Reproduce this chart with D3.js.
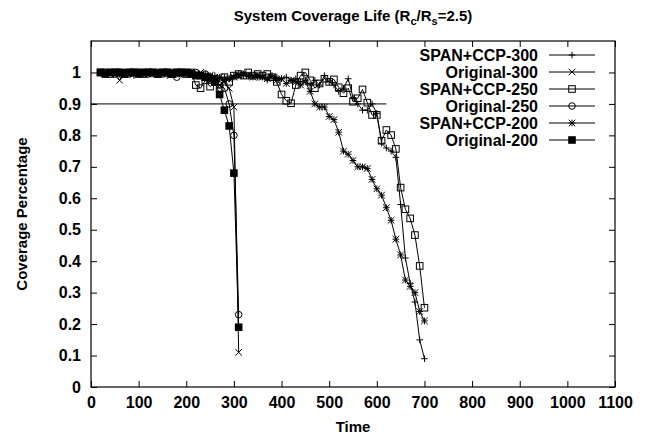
<!DOCTYPE html>
<html>
<head>
<meta charset="utf-8">
<script src="https://cdn.jsdelivr.net/npm/d3@7"></script>
<style>
  body { margin: 0; background: #fff; }
  text { font-family: "Liberation Sans", Arial, sans-serif; font-weight: bold; fill: #000; }
</style>
</head>
<body>
<div id="chart"></div>
<script>
// time steps of the two kinds of runs
var timeOrig = [20, 30, 40, 50, 60, 70, 80, 90, 100, 110, 120, 130, 140, 150, 160, 170, 180, 190, 200, 210,
  220, 230, 240, 250, 260, 270, 280, 290, 300, 310];
var timeSpan = [20, 30, 40, 50, 60, 70, 80, 90, 100, 110, 120, 130, 140, 150, 160, 170, 180, 190, 200, 210,
  220, 230, 240, 250, 260, 270, 280, 290, 300, 310, 320, 330, 340, 350, 360, 370, 380, 390, 400, 410,
  420, 430, 440, 450, 460, 470, 480, 490, 500, 510, 520, 530, 540, 550, 560, 570, 580, 590, 600, 610,
  620, 630, 640, 650, 660, 670, 680, 690, 700];

// coverage values
var spanCcp300 = [1, 0.995, 1, 1, 0.995, 1, 1, 0.99, 1, 0.995, 1, 1, 0.995, 1, 0.99, 1, 1, 0.995, 1,
  1, 0.995, 0.99, 0.995, 0.985, 0.99, 0.98, 0.985, 0.98, 0.99, 0.995, 0.99, 0.987, 0.99, 0.985, 0.99, 0.976,
  0.99, 0.985, 0.98, 0.985, 0.975, 0.98, 0.97, 0.975, 0.96, 0.975, 0.96, 0.99, 0.97, 0.96, 0.94, 0.95, 0.98,
  0.92, 0.9, 0.88, 0.88, 0.9, 0.87, 0.775, 0.76, 0.75, 0.73, 0.58, 0.41, 0.33, 0.27, 0.15, 0.09];
var original300 = [1, 1, 0.995, 1, 0.975, 1, 1, 0.995, 1, 1, 0.995, 1, 1, 1, 0.995, 1, 1, 0.995, 1, 1,
  0.995, 1, 0.99, 0.99, 0.985, 0.96, 0.97, 0.95, 0.89, 0.11];
var spanCcp250 = [1, 1, 0.995, 1, 1, 0.995, 1, 1, 1, 0.995, 1, 1, 0.995, 1, 1, 0.995, 1, 1, 0.995, 1,
  0.96, 0.95, 0.975, 0.955, 0.97, 0.95, 0.985, 0.97, 0.99, 0.995, 0.99, 1, 0.99, 0.995, 0.99, 0.995,
  0.985, 0.97, 0.93, 0.91, 0.902, 0.96, 0.99, 1, 0.975, 0.95, 0.965, 0.98, 0.97, 0.978, 0.953, 0.934, 0.95,
  0.907, 0.918, 0.946, 0.904, 0.865, 0.865, 0.783, 0.817, 0.801, 0.757, 0.634, 0.565, 0.536, 0.483, 0.385, 0.252];
var original250 = [1, 1, 1, 0.995, 1, 1, 0.995, 1, 1, 1, 0.995, 1, 1, 0.995, 1, 1, 0.985, 1, 1, 0.995,
  1, 0.99, 0.995, 0.985, 0.98, 0.96, 0.95, 0.9, 0.8, 0.23];
var spanCcp200 = [1, 0.995, 1, 1, 0.995, 1, 1, 1, 0.995, 1, 1, 0.995, 1, 1, 1, 0.995, 1, 1, 0.995, 1,
  0.995, 0.99, 0.985, 0.99, 0.98, 0.985, 0.975, 0.98, 0.985, 0.99, 0.995, 0.99, 0.985, 0.99, 0.985, 0.98,
  0.985, 0.975, 0.98, 0.965, 0.975, 0.97,
  0.96, 0.97, 0.94, 0.9, 0.89, 0.89, 0.86, 0.85, 0.81, 0.75, 0.74, 0.72, 0.7, 0.7, 0.695, 0.66, 0.63,
  0.61, 0.57, 0.53, 0.47, 0.42, 0.34, 0.32, 0.3, 0.24, 0.21];
var original200 = [1, 0.995, 1, 1, 1, 0.995, 1, 1, 0.995, 1, 1, 1, 0.995, 1, 1, 0.995, 1, 1, 1, 0.995,
  0.99, 0.99, 0.985, 0.98, 0.97, 0.93, 0.88, 0.83, 0.68, 0.19];

// 0.9 reference line and where it stops
var refValue = 0.9;
var refEnd = 620;

var seriesNames = ["SPAN+CCP-300", "Original-300", "SPAN+CCP-250", "Original-250", "SPAN+CCP-200", "Original-200"];
var seriesTimes = [timeSpan, timeOrig, timeSpan, timeOrig, timeSpan, timeOrig];
var seriesValues = [spanCcp300, original300, spanCcp250, original250, spanCcp200, original200];
var seriesMarks = ["plus", "cross", "square", "circle", "star", "filled"];

var xTicks = [0, 100, 200, 300, 400, 500, 600, 700, 800, 900, 1000, 1100];
var yTicks = [0, 0.1, 0.2, 0.3, 0.4, 0.5, 0.6, 0.7, 0.8, 0.9, 1];

var svgWidth = 647, svgHeight = 440;
var margin = {top: 41, right: 32, bottom: 53, left: 91},
    width = svgWidth - margin.left - margin.right,
    height = svgHeight - margin.top - margin.bottom;

var svg = d3.select("#chart")
  .append("svg")
  .attr("width", svgWidth)
  .attr("height", svgHeight);

var chartGroup = svg.append("g")
  .attr("transform", `translate(${margin.left}, ${margin.top})`);

var xScale = d3.scaleLinear().domain([0, 1100]).range([0, width]);
var yScale = d3.scaleLinear().domain([0, 1.1]).range([height, 0]);

// gnuplot style ticks: pointing inward, mirrored on the opposite side
var tickLen = 6;
chartGroup.append("g")
  .attr("transform", `translate(0, ${height})`)
  .call(d3.axisBottom(xScale).tickValues(xTicks).tickSize(-tickLen).tickPadding(10).tickFormat(d3.format("d")))
  .call(g => g.select(".domain").remove())
  .selectAll("text").attr("font-size", 16).attr("dy", "0.71em");
chartGroup.append("g")
  .call(d3.axisTop(xScale).tickValues(xTicks).tickSize(-tickLen).tickFormat(""))
  .call(g => g.select(".domain").remove());
chartGroup.append("g")
  .call(d3.axisLeft(yScale).tickValues(yTicks).tickSize(-tickLen).tickPadding(10).tickFormat(d3.format("")))
  .call(g => g.select(".domain").remove())
  .selectAll("text").attr("font-size", 16);
chartGroup.append("g")
  .attr("transform", `translate(${width}, 0)`)
  .call(d3.axisRight(yScale).tickValues(yTicks).tickSize(-tickLen).tickFormat(""))
  .call(g => g.select(".domain").remove());

chartGroup.selectAll(".tick line").attr("stroke", "#000");

// frame
chartGroup.append("rect")
  .attr("width", width)
  .attr("height", height)
  .attr("fill", "none")
  .attr("stroke", "#000")
  .attr("stroke-width", 1.2);

// horizontal 0.9 line
chartGroup.append("line")
  .attr("x1", xScale(0))
  .attr("x2", xScale(refEnd))
  .attr("y1", yScale(refValue))
  .attr("y2", yScale(refValue))
  .attr("stroke", "#000");

// draws one marker of the given kind at x, y
function drawMark(g, kind, x, y) {
  var s = 3.3;
  if (kind === "plus") {
    g.append("path").attr("d", `M${x - s},${y}H${x + s}M${x},${y - s}V${y + s}`)
      .attr("stroke", "#000").attr("fill", "none");
  } else if (kind === "cross") {
    g.append("path").attr("d", `M${x - s},${y - s}L${x + s},${y + s}M${x - s},${y + s}L${x + s},${y - s}`)
      .attr("stroke", "#000").attr("fill", "none");
  } else if (kind === "star") {
    g.append("path").attr("d", `M${x - s},${y}H${x + s}M${x},${y - s}V${y + s}` +
        `M${x - s},${y - s}L${x + s},${y + s}M${x - s},${y + s}L${x + s},${y - s}`)
      .attr("stroke", "#000").attr("fill", "none");
  } else if (kind === "square") {
    g.append("rect").attr("x", x - s).attr("y", y - s).attr("width", 2 * s).attr("height", 2 * s)
      .attr("stroke", "#000").attr("fill", "none");
  } else if (kind === "circle") {
    g.append("circle").attr("cx", x).attr("cy", y).attr("r", s)
      .attr("stroke", "#000").attr("fill", "none");
  } else {
    g.append("rect").attr("x", x - s - 0.5).attr("y", y - s - 0.5).attr("width", 2 * s + 1).attr("height", 2 * s + 1)
      .attr("fill", "#000");
  }
}

var line = d3.line()
  .x(d => xScale(d[0]))
  .y(d => yScale(d[1]));

seriesNames.forEach(function(name, i) {
  var pts = seriesTimes[i].map((t, j) => [t, seriesValues[i][j]]);
  var g = chartGroup.append("g").attr("class", "series");
  g.append("path")
    .datum(pts)
    .attr("d", line)
    .attr("fill", "none")
    .attr("stroke", "#000")
    .attr("stroke-width", 1);
  pts.forEach(function(p) {
    drawMark(g, seriesMarks[i], xScale(p[0]), yScale(p[1]));
  });
});

// legend, top right inside the frame
var legend = svg.append("g");
seriesNames.forEach(function(name, i) {
  var ly = 55 + i * 17;
  legend.append("text")
    .attr("x", 538)
    .attr("y", ly)
    .attr("dy", "0.35em")
    .attr("text-anchor", "end")
    .attr("font-size", 16)
    .text(name);
  legend.append("line")
    .attr("x1", 549).attr("x2", 595)
    .attr("y1", ly).attr("y2", ly)
    .attr("stroke", "#000");
  drawMark(legend, seriesMarks[i], 572, ly);
});

// title with subscripts
var title = svg.append("text")
  .attr("x", 353)
  .attr("y", 21)
  .attr("text-anchor", "middle")
  .attr("font-size", 15);
title.append("tspan").text("System Coverage Life (R");
title.append("tspan").attr("font-size", 11).attr("dy", 4).text("c");
title.append("tspan").attr("dy", -4).text("/R");
title.append("tspan").attr("font-size", 11).attr("dy", 4).text("s");
title.append("tspan").attr("dy", -4).text("=2.5)");

// axis labels
svg.append("text")
  .attr("x", margin.left + width / 2)
  .attr("y", 432)
  .attr("text-anchor", "middle")
  .attr("font-size", 15)
  .text("Time");

svg.append("text")
  .attr("transform", `translate(27, ${margin.top + height / 2}) rotate(-90)`)
  .attr("text-anchor", "middle")
  .attr("font-size", 15)
  .text("Coverage Percentage");
</script>
</body>
</html>
